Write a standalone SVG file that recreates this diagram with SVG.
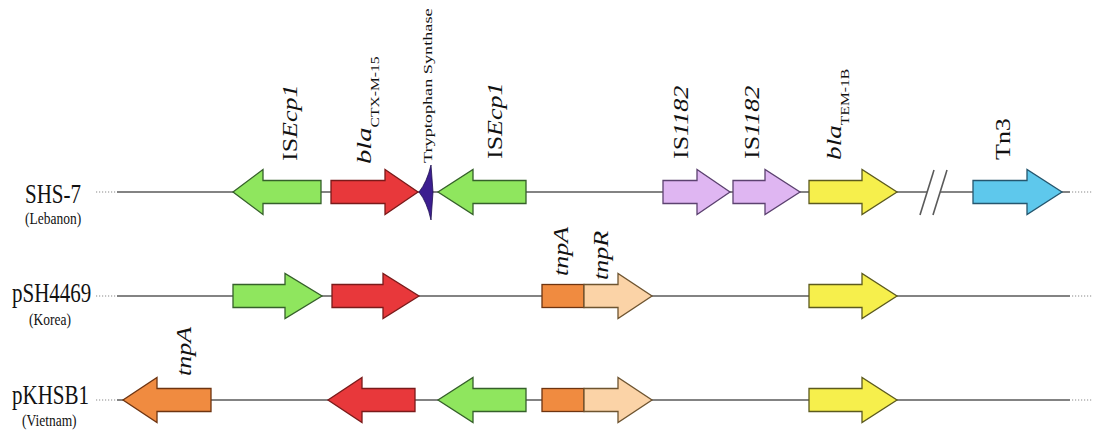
<svg xmlns="http://www.w3.org/2000/svg" width="1095" height="437" viewBox="0 0 1095 437">
<style>
.bb{stroke:#5a5a5a;stroke-width:1.6;fill:none}
.dot{stroke:#8a8a8a;stroke-width:1.2;stroke-dasharray:1.2,1.8;fill:none}
.g{fill:#8fe65e;stroke:#35602a;stroke-width:1.3}
.r{fill:#e8383b;stroke:#7a1a1a;stroke-width:1.3}
.p{fill:#dfb6f2;stroke:#5c4270;stroke-width:1.3}
.y{fill:#f6ef4c;stroke:#5c5a1e;stroke-width:1.3}
.c{fill:#5ec8ec;stroke:#25566e;stroke-width:1.3}
.o{fill:#f08b40;stroke:#6e3410;stroke-width:1.3}
.t{fill:#fbd3a7;stroke:#6e5430;stroke-width:1.3}
.tr{fill:#3c1e90;stroke:#1e0f50;stroke-width:0.8}
text{font-family:"Liberation Serif","Times New Roman",serif;fill:#111}
.nm{font-size:21px}
.cn{font-size:13.5px}
.lb{font-size:20px}
.it{font-style:italic}
.sub{font-size:12px}
</style>

<g id="connectors">
  <line class="dot" x1="96" y1="192" x2="116" y2="192"/>
  <line class="bb" x1="117" y1="192" x2="927" y2="192"/>
  <line class="bb" x1="940" y1="192" x2="1070" y2="192"/>
  <line class="dot" x1="1072" y1="192" x2="1093" y2="192"/>
  <line class="bb" x1="920" y1="215" x2="934" y2="170"/>
  <line class="bb" x1="933" y1="215" x2="947" y2="170"/>
  <line class="dot" x1="96" y1="296" x2="116" y2="296"/>
  <line class="bb" x1="117" y1="296" x2="1070" y2="296"/>
  <line class="dot" x1="1072" y1="296" x2="1093" y2="296"/>
  <line class="dot" x1="96" y1="400" x2="116" y2="400"/>
  <line class="bb" x1="117" y1="400" x2="1070" y2="400"/>
  <line class="dot" x1="1072" y1="400" x2="1093" y2="400"/>
</g>

<g id="row-labels">
  <text class="nm" transform="translate(25,203) scale(1,1.3)">SHS-7</text>
  <text class="cn" transform="translate(25,224) scale(1,1.3)">(Lebanon)</text>
  <text class="nm" transform="translate(12,302) scale(1,1.3)">pSH4469</text>
  <text class="cn" transform="translate(29,325) scale(1,1.3)">(Korea)</text>
  <text class="nm" transform="translate(12,404) scale(1,1.3)">pKHSB1</text>
  <text class="cn" transform="translate(22,426) scale(1,1.3)">(Vietnam)</text>
</g>

<!-- Row 1: SHS-7 -->
<g id="r1-isecp1-a">
  <polygon class="g" points="321,180.5 263,180.5 263,169.5 233,192 263,214.5 263,203.5 321,203.5"/>
  <text class="lb" transform="translate(297,161) rotate(-90) scale(1.3,1)">IS<tspan class="it">Ecp1</tspan></text>
</g>
<g id="r1-bla-ctx">
  <polygon class="r" points="331,180.5 385,180.5 385,169.5 418,192 385,214.5 385,203.5 331,203.5"/>
  <text class="lb" transform="translate(371,164) rotate(-90) scale(1.3,1)"><tspan class="it" font-size="22">bla</tspan><tspan class="sub" dy="8">CTX-M-15</tspan></text>
</g>
<g id="r1-tryptophan">
  <path class="tr" d="M419,192 Q427,182 431,165 L433,192 L431,220 Q427,202 419,192Z"/>
  <text transform="translate(432,163) rotate(-90) scale(1.35,1)" font-size="13.5">Tryptophan Synthase</text>
</g>
<g id="r1-isecp1-b">
  <polygon class="g" points="526,180.5 473,180.5 473,169.5 438,192 473,214.5 473,203.5 526,203.5"/>
  <text class="lb" transform="translate(502,159) rotate(-90) scale(1.3,1)">IS<tspan class="it">Ecp1</tspan></text>
</g>
<g id="r1-is1182-a">
  <polygon class="p" points="663,180.5 697,180.5 697,169.5 730,192 697,214.5 697,203.5 663,203.5"/>
  <text class="lb" transform="translate(688,159) rotate(-90) scale(1.3,1)">IS<tspan class="it">1182</tspan></text>
</g>
<g id="r1-is1182-b">
  <polygon class="p" points="733,180.5 765,180.5 765,169.5 800,192 765,214.5 765,203.5 733,203.5"/>
  <text class="lb" transform="translate(759,159) rotate(-90) scale(1.3,1)">IS<tspan class="it">1182</tspan></text>
</g>
<g id="r1-bla-tem">
  <polygon class="y" points="809,180.5 862,180.5 862,169.5 897,192 862,214.5 862,203.5 809,203.5"/>
  <text class="lb" transform="translate(841,160) rotate(-90) scale(1.3,1)"><tspan class="it" font-size="21">bla</tspan><tspan class="sub" font-size="11" dy="8">TEM-1B</tspan></text>
</g>
<g id="r1-tn3">
  <polygon class="c" points="973,180.5 1027,180.5 1027,169.5 1062,192 1027,214.5 1027,203.5 973,203.5"/>
  <text class="lb" transform="translate(1010,160) rotate(-90) scale(1.3,1)">Tn3</text>
</g>

<!-- Row 2: pSH4469 -->
<g id="r2-isecp1">
  <polygon class="g" points="233,284.5 285,284.5 285,273.5 322,296 285,318.5 285,307.5 233,307.5"/>
</g>
<g id="r2-bla-ctx">
  <polygon class="r" points="332,284.5 383,284.5 383,273.5 419,296 383,318.5 383,307.5 332,307.5"/>
</g>
<g id="r2-tnpA">
  <rect class="o" x="542" y="284.5" width="42" height="23"/>
  <text class="lb it" font-size="19" transform="translate(568,276) rotate(-90) scale(1.3,1)">tnpA</text>
</g>
<g id="r2-tnpR">
  <polygon class="t" points="584,284.5 618,284.5 618,273.5 652,296 618,318.5 618,307.5 584,307.5"/>
  <text class="lb it" font-size="19" transform="translate(608,280) rotate(-90) scale(1.3,1)">tnpR</text>
</g>
<g id="r2-bla-tem">
  <polygon class="y" points="809,284.5 862,284.5 862,273.5 897,296 862,318.5 862,307.5 809,307.5"/>
</g>

<!-- Row 3: pKHSB1 -->
<g id="r3-tnpA-a">
  <polygon class="o" points="211,388.5 157,388.5 157,377.5 123,400 157,422.5 157,411.5 211,411.5"/>
  <text class="lb it" font-size="19" transform="translate(191,376) rotate(-90) scale(1.3,1)">tnpA</text>
</g>
<g id="r3-bla-ctx">
  <polygon class="r" points="415,388.5 362,388.5 362,377.5 328,400 362,422.5 362,411.5 415,411.5"/>
</g>
<g id="r3-isecp1">
  <polygon class="g" points="526,388.5 473,388.5 473,377.5 438,400 473,422.5 473,411.5 526,411.5"/>
</g>
<g id="r3-tnpA-b">
  <rect class="o" x="542" y="388.5" width="42" height="23"/>
</g>
<g id="r3-tnpR">
  <polygon class="t" points="584,388.5 618,388.5 618,377.5 652,400 618,422.5 618,411.5 584,411.5"/>
</g>
<g id="r3-bla-tem">
  <polygon class="y" points="809,388.5 862,388.5 862,377.5 897,400 862,422.5 862,411.5 809,411.5"/>
</g>
</svg>
